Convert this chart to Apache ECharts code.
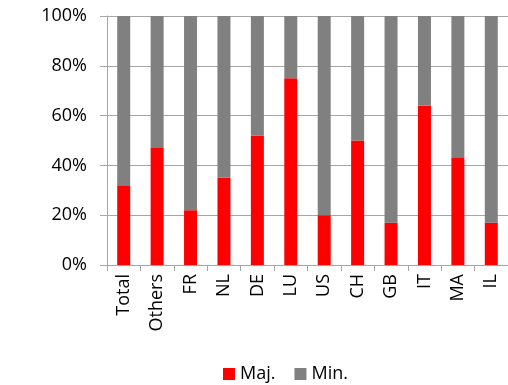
<!DOCTYPE html>
<html>
<head>
<meta charset="utf-8">
<script src="https://cdn.jsdelivr.net/npm/echarts@6/dist/echarts.min.js"></script>
<style>
  html, body { margin: 0; padding: 0; background: #fff; }
  #chart { width: 508px; height: 385px; }
</style>
</head>
<body>
<div id="chart"></div>
<script>
// Share of majority vs minority per country (stacked to 100%)
const categories = ['Total', 'Others', 'FR', 'NL', 'DE', 'LU', 'US', 'CH', 'GB', 'IT', 'MA', 'IL'];
const majValues = [32, 47, 22, 35, 52, 75, 20, 50, 17, 64, 43, 17];
const minValues = majValues.map(v => 100 - v);
const yTicks = [0, 20, 40, 60, 80, 100];

const FONT = '"Open Sans", Lato, sans-serif';
const chart = echarts.init(document.getElementById('chart'), null, { renderer: 'canvas' });

chart.setOption({
  animation: false,
  textStyle: { fontFamily: FONT },
  grid: { left: 107, right: -5, top: 16, bottom: 120, containLabel: false },
  legend: {
    left: 218,
    top: 360,
    itemWidth: 12,
    itemHeight: 12,
    itemGap: 19,
    icon: 'rect',
    textStyle: { fontFamily: FONT, fontSize: 18, color: '#000' },
    data: ['Maj.', 'Min.']
  },
  xAxis: {
    type: 'category',
    data: categories,
    boundaryGap: true,
    axisLine: { lineStyle: { color: '#A6A6A6', width: 1 } },
    axisTick: { show: true, length: 6, alignWithLabel: false, lineStyle: { color: '#A6A6A6' } },
    axisLabel: { rotate: 90, fontSize: 18, color: '#000', margin: 9, fontFamily: FONT }
  },
  yAxis: {
    type: 'value',
    min: yTicks[0],
    max: yTicks[yTicks.length - 1],
    interval: 20,
    axisLine: { show: true, lineStyle: { color: '#A6A6A6', width: 1 } },
    axisTick: { show: true, length: 7, lineStyle: { color: '#A6A6A6' } },
    axisLabel: { formatter: '{value}%', fontSize: 18, color: '#000', margin: 20, fontFamily: FONT },
    splitLine: { show: true, lineStyle: { color: '#A6A6A6', width: 1 } }
  },
  series: [
    {
      name: 'Maj.',
      type: 'bar',
      stack: 'share',
      barWidth: 13,
      itemStyle: { color: '#FF0000' },
      data: majValues
    },
    {
      name: 'Min.',
      type: 'bar',
      stack: 'share',
      barWidth: 13,
      itemStyle: { color: '#808080' },
      data: minValues
    }
  ]
});
</script>
</body>
</html>
